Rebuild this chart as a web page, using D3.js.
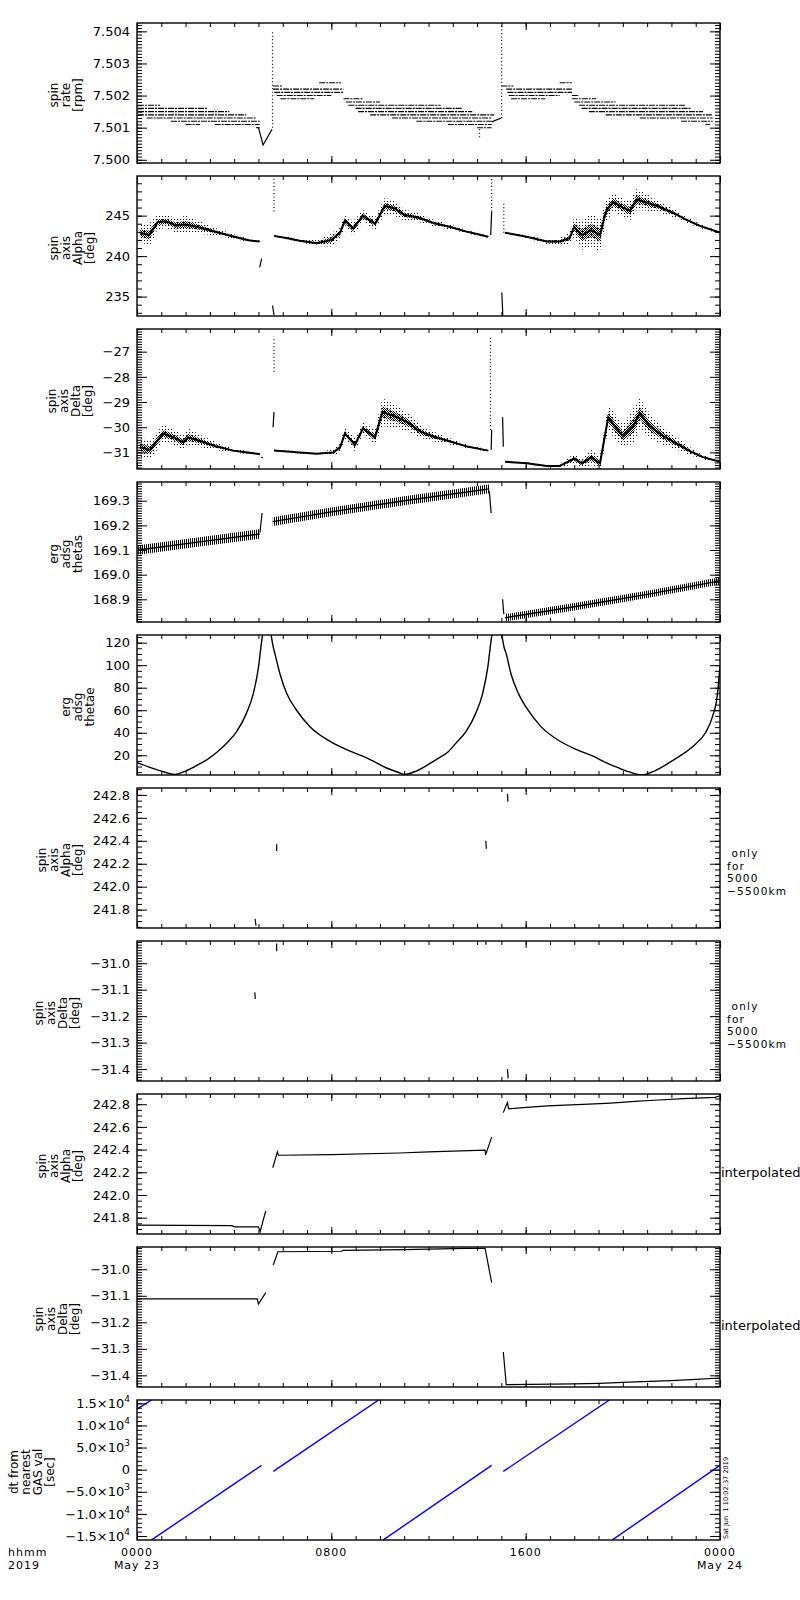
<!DOCTYPE html>
<html>
<head>
<meta charset="utf-8">
<style>
  body { margin: 0; background: #fff; }
  svg { display: block; }
  text { font-family: 'DejaVu Sans', sans-serif; fill: #000; }
  .tick text { font-size: 13px; }
  .ytitle { font-size: 12px; }
  .side { font-size: 10.5px; letter-spacing: 1.2px; white-space: pre; }
  .side1 { font-size: 13px; }
  .xlab { font-size: 11px; letter-spacing: 1px; }
  .stamp { font-size: 6.6px; white-space: pre; }
</style>
</head>
<body>
<svg width="800" height="1600"></svg>

<script src="https://d3js.org/d3.v7.min.js"></script>
<script>
// ---------------- time axis (hours of 2019 May 23) ----------------
const hourMajor = [0, 8, 16, 24];
const hourLabels = ["0000", "0800", "1600", "0000"];
const dateLabels = ["May 23", "", "", "May 24"];
const unitLabels = ["hhmm", "2019"];
const stampText = "Sat Jun  1 10:02:37 2019";

// ---------------- panel 1 : spin rate ----------------
const rateTicks = [7.500, 7.501, 7.502, 7.503, 7.504];
const rateTickLabels = ["7.500", "7.501", "7.502", "7.503", "7.504"];
// quantised levels: [rpm, from hour, to hour]
const rateLevels = [
  [7.5017, 0.04, 0.95], [7.5016, 0.04, 2.9], [7.5015, 0.04, 3.8], [7.5014, 0.04, 4.5],
  [7.5013, 0.4, 4.9], [7.5012, 1.4, 5.05], [7.5011, 2.0, 2.6], [7.5011, 3.2, 5.05],
  [7.5010, 4.9, 5.05],
  [7.5023, 5.6, 6.0], [7.5022, 5.6, 8.5], [7.5021, 5.65, 8.5], [7.5020, 5.75, 8.0],
  [7.5019, 5.9, 7.3], [7.5024, 7.5, 8.4], [7.5019, 8.5, 9.3], [7.5018, 8.6, 10.0],
  [7.5017, 8.7, 12.5], [7.5016, 9.0, 13.4], [7.5015, 9.1, 13.8], [7.5014, 9.6, 14.7],
  [7.5013, 10.5, 14.6], [7.5012, 11.5, 14.6], [7.5011, 12.8, 14.6], [7.5010, 14.0, 14.6],
  [7.5023, 15.0, 15.5], [7.5022, 15.2, 17.9], [7.5021, 15.25, 17.9], [7.5020, 15.3, 17.4],
  [7.5019, 15.4, 16.8], [7.5024, 17.4, 17.9], [7.5020, 17.9, 18.2], [7.5019, 17.9, 18.9],
  [7.5018, 18.0, 19.7], [7.5017, 18.2, 22.6], [7.5016, 18.3, 22.8], [7.5015, 18.6, 23.3],
  [7.5014, 19.3, 23.7], [7.5013, 20.7, 23.7], [7.5012, 22.4, 23.7], [7.5011, 23.4, 23.6]
];
// scattered columns of points: [hour, from, to]
const rateSpikes = [[0.02, 7.4999, 7.5012], [5.58, 7.5010, 7.5040], [14.1, 7.5007, 7.5010], [15.01, 7.5013, 7.5042]];
const rateLines = [
  [[5.0, 7.5010], [5.19, 7.50046], [5.56, 7.50095]],
  [[14.6, 7.50118], [15.0, 7.5013]]
];

// ---------------- panel 2 : spin axis alpha ----------------
const alphaTicks = [235, 240, 245];
const alphaTickLabels = ["235", "240", "245"];
// [hour, centre, half spread]
const alphaSeg1 = [[0.12, 242.9, 1.0], [0.5, 242.6, 1.4], [0.85, 244.2, 0.9], [1.2, 244.3, 0.8], [1.6, 243.8, 0.9],
  [2.0, 243.9, 1.1], [2.5, 243.6, 0.8], [3.0, 243.2, 0.55], [3.5, 242.8, 0.4], [4.0, 242.4, 0.3], [4.6, 241.95, 0.2], [5.05, 241.8, 0.12]];
const alphaSeg2 = [[5.64, 242.5, 0.1], [6.2, 242.2, 0.15], [6.7, 241.9, 0.2], [7.4, 241.6, 0.35], [8.0, 242.0, 0.8],
  [8.36, 242.9, 0.8], [8.56, 244.4, 0.8], [8.9, 243.4, 0.9], [9.3, 245.0, 0.7], [9.8, 244.0, 0.8], [10.2, 246.2, 1.0],
  [10.6, 245.9, 0.9], [11.0, 245.1, 0.7], [11.65, 244.7, 0.5], [12.2, 244.1, 0.4], [12.9, 243.6, 0.3], [13.6, 243.0, 0.2], [14.46, 242.4, 0.12]];
const alphaSeg3 = [[15.15, 242.9, 0.1], [16.04, 242.4, 0.15], [16.87, 241.8, 0.3], [17.4, 241.8, 0.45], [17.8, 242.2, 0.7],
  [18.0, 243.6, 1.2], [18.3, 242.6, 1.8], [18.7, 243.2, 2.0], [19.06, 242.6, 2.0], [19.3, 245.5, 1.3], [19.6, 246.7, 1.2],
  [20.0, 246.0, 1.1], [20.3, 245.6, 1.2], [20.57, 247.0, 1.3], [21.0, 246.6, 1.0], [21.5, 246.1, 0.7], [22.1, 245.3, 0.5],
  [22.6, 244.5, 0.35], [23.2, 243.7, 0.25], [24.0, 242.9, 0.15]];
const alphaLines = [[[5.05, 238.6], [5.13, 239.7]], [[5.58, 233.9], [5.64, 232.7]], [[14.56, 242.6], [14.6, 245.5]], [[15.02, 235.5], [15.06, 232.6]]];
const alphaSpikes = [[5.64, 245.5, 249.5], [14.6, 245.5, 249.8], [15.1, 242.9, 246.5]];

// ---------------- panel 3 : spin axis delta ----------------
const deltaTicks = [-31, -30, -29, -28, -27];
const deltaTickLabels = ["−31", "−30", "−29", "−28", "−27"];
const deltaSeg1 = [[0.12, -30.8, 0.4], [0.54, -30.9, 0.35], [1.07, -30.25, 0.35], [1.5, -30.4, 0.3], [1.9, -30.6, 0.3],
  [2.1, -30.4, 0.35], [2.6, -30.55, 0.25], [3.3, -30.77, 0.15], [3.96, -30.93, 0.08], [5.06, -31.07, 0.04]];
const deltaSeg2 = [[5.64, -30.93, 0.03], [6.7, -31.0, 0.04], [7.4, -31.05, 0.06], [8.1, -31.0, 0.12], [8.36, -30.8, 0.2],
  [8.56, -30.25, 0.25], [8.97, -30.7, 0.25], [9.3, -30.05, 0.25], [9.8, -30.4, 0.3], [10.1, -29.4, 0.55], [10.7, -29.6, 0.45],
  [11.2, -29.84, 0.35], [11.65, -30.17, 0.25], [12.2, -30.37, 0.2], [12.9, -30.57, 0.12], [13.6, -30.77, 0.07], [14.46, -30.93, 0.04]];
const deltaSeg3 = [[15.15, -31.37, 0.03], [16.04, -31.43, 0.04], [16.87, -31.54, 0.05], [17.4, -31.54, 0.08], [18.0, -31.25, 0.2],
  [18.3, -31.43, 0.2], [18.7, -31.2, 0.3], [19.06, -31.43, 0.3], [19.4, -29.6, 0.5], [19.7, -30.0, 0.5], [20.0, -30.35, 0.45],
  [20.43, -29.95, 0.7], [20.7, -29.45, 0.6], [21.1, -29.95, 0.5], [21.66, -30.35, 0.35], [22.2, -30.64, 0.25], [22.8, -30.97, 0.15],
  [23.3, -31.19, 0.08], [24.0, -31.37, 0.05]];
const deltaLines = [[[5.12, -31.18], [5.18, -31.22]], [[5.6, -30.0], [5.64, -29.4]], [[14.58, -30.9], [14.6, -30.1]], [[15.05, -29.6], [15.08, -30.78]]];
const deltaSpikes = [[5.64, -27.8, -26.4], [14.55, -30.1, -26.4]];

// ---------------- panel 4 : erg adsg thetas ----------------
const thetasTicks = [168.9, 169.0, 169.1, 169.2, 169.3];
const thetasTickLabels = ["168.9", "169.0", "169.1", "169.2", "169.3"];
const thetasSeg1 = [[0.05, 169.100, 0.019], [2.5, 169.132, 0.019], [5.05, 169.165, 0.019]];
const thetasSeg2 = [[5.59, 169.215, 0.018], [8.0, 169.255, 0.018], [11.0, 169.300, 0.018], [14.5, 169.348, 0.018]];
const thetasSeg3 = [[15.15, 168.825, 0.015], [18.0, 168.870, 0.015], [21.0, 168.920, 0.015], [24.0, 168.975, 0.015]];
const thetasLines = [[[5.06, 169.17], [5.15, 169.25]], [[14.5, 169.34], [14.58, 169.25]], [[15.05, 168.90], [15.1, 168.84]]];

// ---------------- panel 5 : erg adsg thetae ----------------
const thetaeTicks = [20, 40, 60, 80, 100, 120];
const thetaeTickLabels = ["20", "40", "60", "80", "100", "120"];
const thetaeSegA = [[0, 13.5], [0.5, 9.5], [1.0, 6], [1.56, 3], [2.0, 6], [2.5, 11.5], [2.87, 16], [3.3, 23], [3.7, 31],
  [4.1, 41], [4.5, 57], [4.79, 75], [5.0, 98], [5.13, 121], [5.17, 127]];
const thetaeSegB = [[5.52, 127], [5.6, 117], [5.68, 110], [5.89, 92], [6.16, 75], [6.57, 60], [7.12, 45.4], [7.95, 32.3],
  [8.63, 25], [9.32, 19], [9.8, 14], [10.3, 8.5], [10.8, 4.5], [11.0, 3], [11.5, 6], [12.3, 16], [12.8, 23], [13.14, 31],
  [13.54, 41], [13.94, 57], [14.23, 75], [14.44, 98], [14.57, 121], [14.61, 127]];
const thetaeSegC = [[15.02, 127], [15.1, 117], [15.2, 110], [15.4, 92], [15.7, 75], [16.1, 60], [16.65, 45], [17.45, 32],
  [18.1, 25], [18.8, 19], [19.3, 13.5], [19.8, 9], [20.3, 5], [20.8, 2.6], [21.3, 6], [22.1, 16], [22.6, 23], [23.0, 30],
  [23.4, 40], [23.7, 55], [23.9, 75], [24.0, 100]];

// ---------------- panels 6-9 : attitude 5000-5500 km and interpolated ----------------
const alphaFineTicks = [241.8, 242.0, 242.2, 242.4, 242.6, 242.8];
const alphaFineTickLabels = ["241.8", "242.0", "242.2", "242.4", "242.6", "242.8"];
const deltaFineTicks = [-31.4, -31.3, -31.2, -31.1, -31.0];
const deltaFineTickLabels = ["−31.4", "−31.3", "−31.2", "−31.1", "−31.0"];
const alphaOrbitMarks = [[[4.86, 241.72], [4.9, 241.66]], [[5.75, 242.37], [5.75, 242.31]], [[14.36, 242.40], [14.38, 242.33]],
  [[15.25, 242.81], [15.27, 242.74]], [[23.95, 242.86], [24.0, 242.82]]];
const deltaOrbitMarks = [[[4.85, -31.11], [4.87, -31.135]], [[5.75, -30.925], [5.75, -30.955]], [[14.36, -30.918], [14.37, -30.93]],
  [[15.25, -31.40], [15.28, -31.435]]];
const alphaInterp = [
  [[0, 241.734], [3.9, 241.73], [4.03, 241.719], [5.0, 241.719], [5.07, 241.678], [5.3, 241.86]],
  [[5.59, 242.24], [5.78, 242.38], [5.82, 242.35], [8.0, 242.355], [10.8, 242.37], [12.0, 242.38], [14.33, 242.395], [14.35, 242.353], [14.6, 242.51]],
  [[15.08, 242.726], [15.25, 242.814], [15.3, 242.76], [15.9, 242.77], [16.9, 242.785], [18.6, 242.80], [19.5, 242.81],
   [20.5, 242.825], [21.3, 242.835], [22.5, 242.85], [23.8, 242.86], [24.0, 242.875]]
];
const deltaInterp = [
  [[0, -31.112], [4.95, -31.112], [5.0, -31.131], [5.3, -31.088]],
  [[5.61, -30.984], [5.8, -30.934], [8.4, -30.932], [8.5, -30.929], [11.0, -30.926], [13.5, -30.921], [14.33, -30.921], [14.6, -31.05]],
  [[15.08, -31.312], [15.2, -31.435], [18.0, -31.432], [19.0, -31.43], [20.5, -31.425], [22.0, -31.42], [23.0, -31.415], [24.0, -31.41]]
];

// ---------------- panel 10 : dt from nearest GAS value ----------------
const dtTicks = [-15000, -10000, -5000, 0, 5000, 10000, 15000];
const dtTickLabels = [["−1.5×10", "4"], ["−1.0×10", "4"], ["−5.0×10", "3"], ["0", ""], ["5.0×10", "3"], ["1.0×10", "4"], ["1.5×10", "4"]];
const dtLines = [
  [[0, 13700], [0.6, 15750]], [[0.6, -15880], [5.13, 980]], [[5.61, -390], [9.95, 15750]],
  [[10.14, -15880], [14.6, 980]], [[15.08, -390], [19.45, 15750]], [[19.57, -15880], [24.0, 980]]
];

// titles
const titleAlpha = ["spin", "axis", "Alpha", "[deg]"];
const titleDelta = ["spin", "axis", "Delta", "[deg]"];
const sideOrbit = [" only", "for", "5000", "−5500km"];
const sideInterp = ["interpolated"];

// ---------------- layout ----------------
const svg = d3.select("svg");
const X0 = 137, X1 = 720, TOP0 = 23, STEP = 153, PH = 140;
const x = d3.scaleLinear().domain([0, 24]).range([X0, X1]);

const defs = svg.append("defs");
function pattern(id, w, h, rects) {
  const p = defs.append("pattern").attr("id", id).attr("patternUnits", "userSpaceOnUse").attr("width", w).attr("height", h);
  rects.forEach(r => p.append("rect").attr("x", r[0]).attr("y", r[1]).attr("width", r[2]).attr("height", r[3]).attr("fill", "#000"));
}
pattern("halo", 3, 3, [[0, 0, 1, 1]]);
pattern("core", 2, 2, [[0, 0, 1, 1], [1, 1, 1, 1]]);
pattern("hatch", 2, 4, [[0, 0, 1, 4]]);

const line = y => d3.line().x(d => x(d[0])).y(d => y(d[1]));

function drawLines(g, y, list, color, w, curve) {
  const gen = line(y).curve(curve || d3.curveLinear);
  g.selectAll(null).data(list).join("path")
    .attr("d", gen).attr("fill", "none")
    .attr("stroke", color || "#000").attr("stroke-width", w || 1.2);
}
function drawSpikes(g, y, list) {
  g.selectAll(null).data(list).join("line")
    .attr("x1", d => x(d[0])).attr("x2", d => x(d[0]))
    .attr("y1", d => y(d[1])).attr("y2", d => y(d[2]))
    .attr("stroke", "#000").attr("stroke-width", 1.2).attr("stroke-dasharray", "1,2.5");
}
function drawCloud(g, y, seg) {
  const band = k => d3.area().x(d => x(d[0])).y0(d => y(d[1] - d[2] * k)).y1(d => y(d[1] + d[2] * k));
  g.append("path").attr("d", band(1)(seg)).attr("fill", "url(#halo)");
  g.append("path").attr("d", band(0.4)(seg)).attr("fill", "url(#core)");
  g.append("path").attr("d", line(y)(seg)).attr("fill", "none").attr("stroke", "#000").attr("stroke-width", 2);
}
function drawHatch(g, y, seg) {
  const band = d3.area().x(d => x(d[0])).y0(d => y(d[1] - d[2])).y1(d => y(d[1] + d[2]));
  g.append("path").attr("d", band(seg)).attr("fill", "url(#hatch)");
  g.append("path").attr("d", line(y)(seg)).attr("fill", "none").attr("stroke", "#000").attr("stroke-width", 1.4);
}

const panels = [
  { domain: [7.49990, 7.50426], ticks: rateTicks, labels: rateTickLabels, minor: 0.0001, title: ["spin", "rate", "[rpm]"],
    draw: (g, y) => {
      g.selectAll(null).data(rateLevels).join("line")
        .attr("x1", d => x(d[1])).attr("x2", d => x(d[2]))
        .attr("y1", d => y(d[0])).attr("y2", d => y(d[0]))
        .attr("stroke", "#000").attr("stroke-width", 1.1).attr("stroke-dasharray", "6,1,2,1");
      drawSpikes(g, y, rateSpikes);
      drawLines(g, y, rateLines);
    } },
  { domain: [232.6, 249.9], ticks: alphaTicks, labels: alphaTickLabels, minor: 1, title: titleAlpha,
    draw: (g, y) => { [alphaSeg1, alphaSeg2, alphaSeg3].forEach(s => drawCloud(g, y, s)); drawLines(g, y, alphaLines); drawSpikes(g, y, alphaSpikes); } },
  { domain: [-31.66, -26.1], ticks: deltaTicks, labels: deltaTickLabels, minor: 0.1, title: titleDelta,
    draw: (g, y) => { [deltaSeg1, deltaSeg2, deltaSeg3].forEach(s => drawCloud(g, y, s)); drawLines(g, y, deltaLines); drawSpikes(g, y, deltaSpikes); } },
  { domain: [168.808, 169.376], ticks: thetasTicks, labels: thetasTickLabels, minor: 0.01, title: ["erg", "adsg", "thetas"],
    draw: (g, y) => { [thetasSeg1, thetasSeg2, thetasSeg3].forEach(s => drawHatch(g, y, s)); drawLines(g, y, thetasLines); } },
  { domain: [2.5, 126.8], ticks: thetaeTicks, labels: thetaeTickLabels, minor: 5, title: ["erg", "adsg", "thetae"],
    draw: (g, y) => drawLines(g, y, [thetaeSegA, thetaeSegB, thetaeSegC], "#000", 1.4, d3.curveMonotoneX) },
  { domain: [241.64, 242.86], ticks: alphaFineTicks, labels: alphaFineTickLabels, minor: 0.05, title: titleAlpha, side: sideOrbit,
    draw: (g, y) => drawLines(g, y, alphaOrbitMarks) },
  { domain: [-31.445, -30.916], ticks: deltaFineTicks, labels: deltaFineTickLabels, minor: 0.01, title: titleDelta, side: sideOrbit,
    draw: (g, y) => drawLines(g, y, deltaOrbitMarks) },
  { domain: [241.656, 242.89], ticks: alphaFineTicks, labels: alphaFineTickLabels, minor: 0.05, title: titleAlpha, side: sideInterp,
    draw: (g, y) => drawLines(g, y, alphaInterp) },
  { domain: [-31.444, -30.916], ticks: deltaFineTicks, labels: deltaFineTickLabels, minor: 0.01, title: titleDelta, side: sideInterp,
    draw: (g, y) => drawLines(g, y, deltaInterp) },
  { domain: [-15900, 15750], ticks: dtTicks, labels: dtTickLabels.map(d => d[0]), minor: 1000, title: ["dt from", "nearest", "GAS val", "[sec]"],
    sup: dtTickLabels,
    draw: (g, y) => drawLines(g, y, dtLines, "#0000ff", 1.4) }
];

panels.forEach((p, i) => {
  const top = TOP0 + i * STEP, bot = top + PH;
  const y = d3.scaleLinear().domain(p.domain).range([bot, top]);
  const g = svg.append("g");

  defs.append("clipPath").attr("id", "clip" + i)
    .append("rect").attr("x", X0).attr("y", top).attr("width", X1 - X0).attr("height", PH);
  p.draw(g.append("g").attr("clip-path", `url(#clip${i})`), y);

  // minor y ticks, both sides
  const [d0, d1] = p.domain;
  const minor = d3.range(Math.ceil(d0 / p.minor - 1e-6), Math.floor(d1 / p.minor + 1e-6) + 1).map(k => k * p.minor);
  g.append("g").attr("transform", `translate(${X0},0)`).call(d3.axisLeft(y).tickValues(minor).tickSize(-5).tickFormat(""));
  g.append("g").attr("transform", `translate(${X1},0)`).call(d3.axisRight(y).tickValues(minor).tickSize(-5).tickFormat(""));
  g.append("g").attr("transform", `translate(${X1},0)`).call(d3.axisRight(y).tickValues(p.ticks).tickSize(-10).tickFormat(""));
  const left = g.append("g").attr("transform", `translate(${X0},0)`)
    .call(d3.axisLeft(y).tickValues(p.ticks).tickSize(-10).tickPadding(7).tickFormat((d, k) => p.labels[k]));

  if (p.sup) {
    left.selectAll(".tick text").each(function (d, k) {
      const t = d3.select(this).text(null);
      t.append("tspan").text(p.sup[k][0]);
      if (p.sup[k][1]) t.append("tspan").attr("dy", -6).attr("font-size", 9).text(p.sup[k][1]);
    });
  }

  // hour ticks, top and bottom
  const hours = d3.range(0, 25);
  g.append("g").attr("transform", `translate(0,${bot})`).call(d3.axisBottom(x).tickValues(hours).tickSize(-4).tickFormat(""));
  g.append("g").attr("transform", `translate(0,${bot})`).call(d3.axisBottom(x).tickValues(hourMajor).tickSize(-7).tickFormat(""));
  g.append("g").attr("transform", `translate(0,${top})`).call(d3.axisTop(x).tickValues(hours).tickSize(-4).tickFormat(""));
  g.append("g").attr("transform", `translate(0,${top})`).call(d3.axisTop(x).tickValues(hourMajor).tickSize(-7).tickFormat(""));
  g.selectAll(".domain").remove();
  g.selectAll(".tick line").attr("stroke", "#000").attr("stroke-width", 1);

  g.append("rect").attr("x", X0).attr("y", top).attr("width", X1 - X0).attr("height", PH)
    .attr("fill", "none").attr("stroke", "#000").attr("stroke-width", 1.4);

  // y title, rotated, lines stacked toward the axis
  const tw = d3.max(left.selectAll(".tick text").nodes(), n => n.getBBox().width);
  const bx = X0 - 7 - tw - 11;
  const n = p.title.length;
  const tt = g.append("text").attr("class", "ytitle").attr("text-anchor", "middle")
    .attr("transform", `translate(${bx},${(top + bot) / 2 + 2}) rotate(-90)`);
  p.title.forEach((s, k) => tt.append("tspan").attr("x", 0).attr("y", (k - (n - 1)) * 12).text(s));

  if (p.side) {
    const multi = p.side.length > 1;
    const st = g.append("text").attr("class", multi ? "side" : "side1");
    const sx = multi ? X1 + 7 : X1 + 1;
    const sy = multi ? top + 69 : top + 83;
    p.side.forEach((s, k) => st.append("tspan").attr("x", sx).attr("y", sy + k * 12.5).text(s));
  }
});

// bottom time labels
const lastBot = TOP0 + 9 * STEP + PH;
svg.append("g").selectAll("text").data(hourMajor).join("text").attr("class", "xlab")
  .attr("x", d => x(d)).attr("y", lastBot + 16).attr("text-anchor", "middle").text((d, k) => hourLabels[k]);
svg.append("g").selectAll("text").data(hourMajor).join("text").attr("class", "xlab")
  .attr("x", d => x(d)).attr("y", lastBot + 29).attr("text-anchor", "middle").text((d, k) => dateLabels[k]);
svg.append("g").selectAll("text").data(unitLabels).join("text").attr("class", "xlab")
  .attr("x", 8).attr("y", (d, k) => lastBot + 16 + k * 13).text(d => d);

svg.append("text").attr("class", "stamp")
  .attr("transform", `translate(${X1 + 8},${lastBot - 1}) rotate(-90)`).text(stampText);
</script>
</body>
</html>
